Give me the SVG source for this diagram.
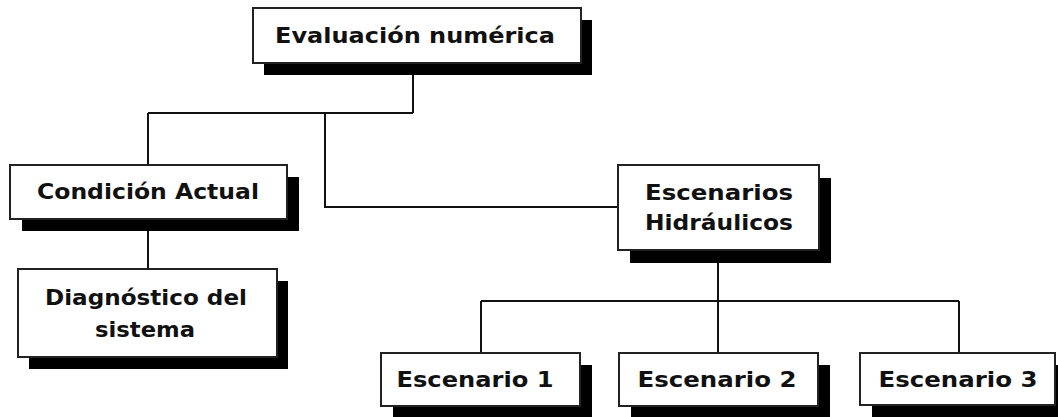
<svg xmlns="http://www.w3.org/2000/svg" width="1058" height="417" viewBox="0 0 1058 417">
<style>
.shadow{fill:#000}
.box{fill:#fff;stroke:#222;stroke-width:2}
.lbl{font-family:"DejaVu Sans","Liberation Sans",sans-serif;font-weight:bold;font-size:22px;fill:#111;text-anchor:middle}
.conn{fill:none;stroke:#111;stroke-width:2}
</style>
<rect width="1058" height="417" fill="#fff"/>
<g id="connectors" class="conn">
<path d="M413 63V113M148 113H413M148 113V165M325 113V207H618"/>
<path d="M148 219V269"/>
<path d="M718 250V353M481 301H959M481 301V353M959 301V353"/>
</g>
<g id="n-eval">
<rect class="shadow" x="264" y="20" width="328" height="55"/>
<rect class="box" x="253" y="8" width="328" height="55"/>
<text class="lbl" x="415" y="43" textLength="280" lengthAdjust="spacingAndGlyphs">Evaluación numérica</text>
</g>
<g id="n-condicion">
<rect class="shadow" x="22" y="177" width="277" height="54"/>
<rect class="box" x="10" y="165" width="277" height="54"/>
<text class="lbl" x="148" y="199" textLength="222" lengthAdjust="spacingAndGlyphs">Condición Actual</text>
</g>
<g id="n-diagnostico">
<rect class="shadow" x="29" y="281" width="259" height="88"/>
<rect class="box" x="18" y="269" width="259" height="88"/>
<text class="lbl" x="146" y="305" textLength="202" lengthAdjust="spacingAndGlyphs">Diagnóstico del</text>
<text class="lbl" x="145" y="337" textLength="100" lengthAdjust="spacingAndGlyphs">sistema</text>
</g>
<g id="n-escenarios">
<rect class="shadow" x="630" y="178" width="201" height="85"/>
<rect class="box" x="618" y="165" width="201" height="85"/>
<text class="lbl" x="719" y="200" textLength="148" lengthAdjust="spacingAndGlyphs">Escenarios</text>
<text class="lbl" x="719" y="230" textLength="148" lengthAdjust="spacingAndGlyphs">Hidráulicos</text>
</g>
<g id="n-esc1">
<rect class="shadow" x="393" y="365" width="199" height="53"/>
<rect class="box" x="381" y="353" width="199" height="53"/>
<text class="lbl" x="475" y="387" textLength="157" lengthAdjust="spacingAndGlyphs">Escenario 1</text>
</g>
<g id="n-esc2">
<rect class="shadow" x="631" y="365" width="199" height="53"/>
<rect class="box" x="619" y="353" width="199" height="53"/>
<text class="lbl" x="717" y="387" textLength="159" lengthAdjust="spacingAndGlyphs">Escenario 2</text>
</g>
<g id="n-esc3">
<rect class="shadow" x="872" y="365" width="195" height="53"/>
<rect class="box" x="860" y="353" width="195" height="52"/>
<text class="lbl" x="958" y="387" textLength="159" lengthAdjust="spacingAndGlyphs">Escenario 3</text>
</g>
</svg>
